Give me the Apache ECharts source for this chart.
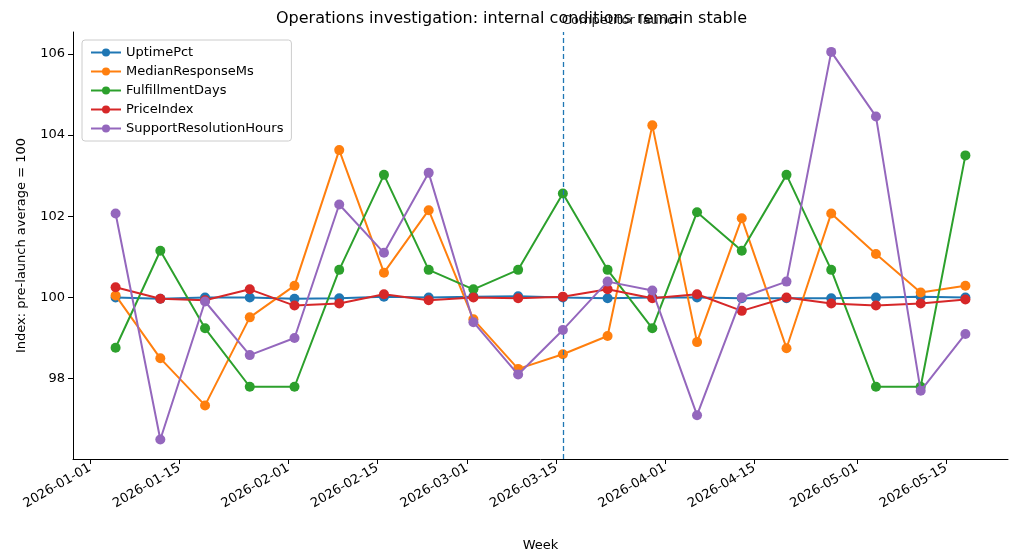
<!DOCTYPE html>
<html>
<head>
<meta charset="utf-8">
<script src="https://cdn.jsdelivr.net/npm/echarts@6/dist/echarts.min.js"></script>
<style>html,body{margin:0;padding:0;background:#fff}#c{width:1023px;height:557px}</style>
</head>
<body>
<div id="c"></div>
<script>
// weekly dates
var weeks = ['2026-01-05','2026-01-12','2026-01-19','2026-01-26','2026-02-02','2026-02-09','2026-02-16','2026-02-23',
  '2026-03-02','2026-03-09','2026-03-16','2026-03-23','2026-03-30','2026-04-06','2026-04-13','2026-04-20',
  '2026-04-27','2026-05-04','2026-05-11','2026-05-18'];
var uptimePct = [100.0,99.97,100.0,100.0,99.97,99.98,100.02,100.0,100.02,100.03,100.0,99.98,100.0,100.0,99.98,99.98,99.98,100.0,100.02,100.0];
var medianResponseMs = [100.05,98.5,97.34,99.51,100.29,103.63,100.61,102.15,99.46,98.24,98.6,99.05,104.24,98.9,101.95,98.75,102.07,101.07,100.12,100.29];
var fulfillmentDays = [98.76,101.15,99.24,97.8,97.8,100.68,103.02,100.68,100.2,100.68,102.56,100.68,99.24,102.1,101.15,103.02,100.68,97.8,97.8,103.5];
var priceIndex = [100.25,99.97,99.93,100.2,99.8,99.85,100.08,99.93,100.0,99.98,100.02,100.2,99.98,100.08,99.67,100.0,99.85,99.8,99.85,99.95];
var supportResolutionHours = [102.07,96.5,99.9,98.58,99.0,102.29,101.1,103.07,99.39,98.1,99.2,100.39,100.17,97.1,100.0,100.39,106.05,104.46,97.7,99.1];
var xTicks = ['2026-01-01','2026-01-15','2026-02-01','2026-02-15','2026-03-01','2026-03-15','2026-04-01','2026-04-15','2026-05-01','2026-05-15'];
var yTicks = [98,100,102,104,106];
var launchDate = '2026-03-16';

var names = ['UptimePct','MedianResponseMs','FulfillmentDays','PriceIndex','SupportResolutionHours'];
var values = [uptimePct, medianResponseMs, fulfillmentDays, priceIndex, supportResolutionHours];
var colors = ['#1f77b4','#ff7f0e','#2ca02c','#d62728','#9467bd'];

function ts(s){ return new Date(s + 'T00:00:00Z').getTime(); }
function fmt(v){ var d=new Date(v); return d.getUTCFullYear()+'-'+String(d.getUTCMonth()+1).padStart(2,'0')+'-'+String(d.getUTCDate()).padStart(2,'0'); }

var series = names.map(function(n, i){
  return {
    name: n, type: 'line', data: weeks.map(function(w, j){ return [ts(w), values[i][j]]; }),
    symbol: 'circle', symbolSize: 10, lineStyle: {width: 2}, itemStyle: {color: colors[i]}, z: 2 + i
  };
});
series[0].markLine = {
  symbol: 'none', silent: true,
  lineStyle: {color: '#1f77b4', type: [5, 3], width: 1.3},
  label: {show: true, position: 'insideEndTop', rotate: 0, formatter: 'Competitor launch', color: '#222', fontSize: 13, offset: [4, 0], align: 'left'},
  data: [{xAxis: ts(launchDate)}]
};

var chart = echarts.init(document.getElementById('c'));
chart.setOption({
  animation: false,
  textStyle: {fontFamily: 'DejaVu Sans'},
  title: {text: 'Operations investigation: internal conditions remain stable', left: 'center', top: 6,
    textStyle: {fontSize: 16, fontWeight: 'normal', color: '#000'}},
  color: colors,
  legend: {orient: 'vertical', left: 82, top: 40, itemWidth: 30, itemHeight: 10, itemGap: 6,
    textStyle: {fontSize: 13, color: '#000'}, borderColor: '#ccc', borderWidth: 1, borderRadius: 3, padding: [6, 8]},
  grid: {left: 73, right: 15, top: 32, bottom: 94},
  xAxis: {
    type: 'value', min: ts('2025-12-29') + 8*3600*1000, max: ts('2026-05-24') + 16*3600*1000,
    name: 'Week', nameLocation: 'middle', nameGap: 80, nameTextStyle: {fontSize: 13, color: '#000'},
    axisLine: {lineStyle: {color: '#000'}}, splitLine: {show: false},
    axisTick: {customValues: xTicks.map(ts), length: 5, lineStyle: {color: '#000'}},
    axisLabel: {customValues: xTicks.map(ts), rotate: 30, formatter: fmt, color: '#000', fontSize: 13}
  },
  yAxis: {
    type: 'value', min: 96.02, max: 106.54,
    name: 'Index: pre-launch average = 100', nameLocation: 'middle', nameGap: 45, nameTextStyle: {fontSize: 13, color: '#000'},
    axisLine: {show: true, lineStyle: {color: '#000'}}, splitLine: {show: false},
    axisTick: {show: true, customValues: yTicks, length: 5, lineStyle: {color: '#000'}},
    axisLabel: {customValues: yTicks, color: '#000', fontSize: 13}
  },
  series: series
});
</script>
</body>
</html>
